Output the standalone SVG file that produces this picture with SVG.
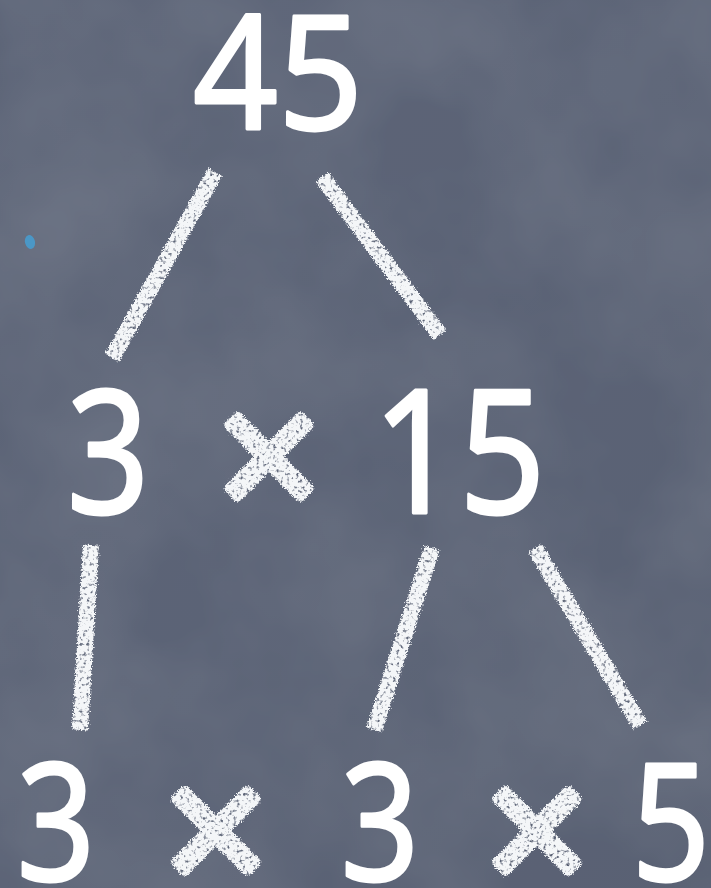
<svg xmlns="http://www.w3.org/2000/svg" width="711" height="888" viewBox="0 0 711 888">
<defs>
<linearGradient id="bg" x1="0" y1="0" x2="1" y2="1">
<stop offset="0" stop-color="#5e6679"/>
<stop offset="0.5" stop-color="#5b6376"/>
<stop offset="1" stop-color="#575f71"/>
</linearGradient>
<filter id="board" x="0" y="0" width="1" height="1">
<feTurbulence type="fractalNoise" baseFrequency="0.006" numOctaves="4" seed="3" result="n"/>
<feColorMatrix in="n" type="matrix" values="0 0 0 0 0.40  0 0 0 0 0.43  0 0 0 0 0.50  0 0 0 0.5 -0.15" result="c"/>
<feComposite in="c" in2="SourceGraphic" operator="atop"/>
</filter>
<filter id="chalk" x="-20%" y="-20%" width="140%" height="140%">
<feTurbulence type="fractalNoise" baseFrequency="0.7" numOctaves="2" seed="7" result="n"/>
<feDisplacementMap in="SourceGraphic" in2="n" scale="6" xChannelSelector="R" yChannelSelector="G" result="d"/>
<feTurbulence type="fractalNoise" baseFrequency="0.3" numOctaves="2" seed="2" result="h"/>
<feColorMatrix in="h" type="matrix" values="0 0 0 0 0  0 0 0 0 0  0 0 0 0 0  0 0 0 -4 3.2" result="hm"/>
<feComposite in="d" in2="hm" operator="in"/>
</filter>
</defs>
<style>
.num{font-family:"Noto Sans","Liberation Sans",sans-serif;fill:#ffffff;stroke:#ffffff;stroke-width:3;stroke-linejoin:round;text-anchor:middle}
.x{font-family:"DejaVu Sans","Liberation Sans",sans-serif;fill:#f4f6f8;stroke:#f4f6f8;stroke-width:10;stroke-linejoin:round;text-anchor:middle}
.edge{stroke:#f4f6f8;stroke-width:16;stroke-linecap:butt;fill:none}
</style>
<rect width="711" height="888" fill="url(#bg)"/>
<rect width="711" height="888" fill="#5b6376" filter="url(#board)" opacity="0.5"/>
<ellipse cx="30" cy="242" rx="5" ry="7" fill="#4b97c6" transform="rotate(-15 30 242)"/>
<g id="connectors" filter="url(#chalk)">
<line class="edge" x1="215" y1="172" x2="112" y2="358"/>
<line class="edge" x1="322" y1="177" x2="440" y2="335"/>
<line class="edge" x1="91" y1="545" x2="80" y2="730"/>
<line class="edge" x1="432" y1="548" x2="374" y2="730"/>
<line class="edge" x1="535" y1="548" x2="640" y2="725"/>
</g>
<g id="n45"><text class="num" transform="translate(278 129) scale(0.93 1)" font-size="160">45</text></g>
<g id="n3a"><text class="num" transform="translate(108 513) scale(0.84 1)" font-size="172">3</text></g>
<g id="times1" filter="url(#chalk)"><text class="x" x="269" y="501" font-size="140">×</text></g>
<g id="n15"><text class="num" transform="translate(459 513) scale(0.88 1)" font-size="172">15</text></g>
<g id="n3b"><text class="num" transform="translate(56 880) scale(0.84 1)" font-size="163">3</text></g>
<g id="times2" filter="url(#chalk)"><text class="x" x="216" y="875" font-size="140">×</text></g>
<g id="n3c"><text class="num" transform="translate(380 880) scale(0.84 1)" font-size="163">3</text></g>
<g id="times3" filter="url(#chalk)"><text class="x" x="537" y="875" font-size="140">×</text></g>
<g id="n5"><text class="num" transform="translate(671 880) scale(0.84 1)" font-size="163">5</text></g>
</svg>
